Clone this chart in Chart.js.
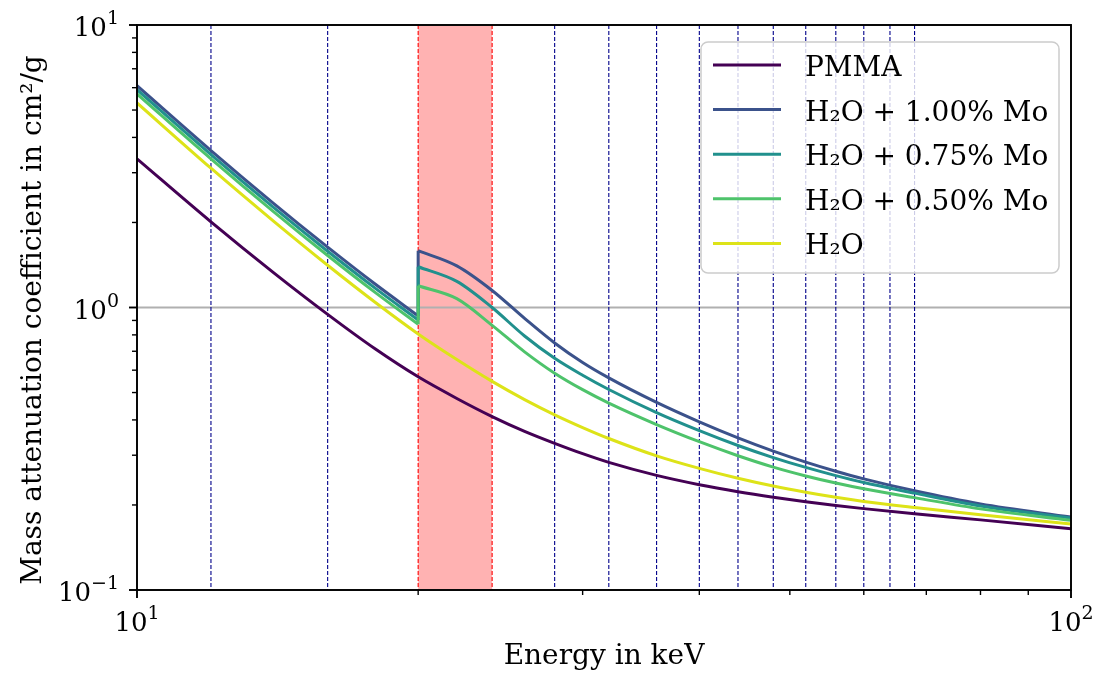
<!DOCTYPE html>
<html>
<head>
<meta charset="utf-8">
<script src="https://cdn.jsdelivr.net/npm/chart.js@4.4.0/dist/chart.umd.min.js"></script>
<style>
	html, body { margin: 0; padding: 0; background: #fff; }
	#wrap { width: 1096px; height: 680px; }
</style>
</head>
<body>
<div id="wrap"><canvas id="myChart" width="1096" height="680"></canvas></div>
<script>
const energies = [10, 12, 14, 16, 18, 20, 22, 24, 26, 28, 30, 32, 36, 40, 44, 48, 52, 56, 60, 68, 80, 100];
const edgeEnergy = 20; // Mo K-edge

// mass attenuation coefficient in cm2/g
const pmma = [3.36, 2.010, 1.329, 0.9456, 0.7127, 0.5683, 0.4765, 0.4111, 0.3644, 0.3305, 0.3038, 0.2830, 0.2545, 0.2359, 0.2228, 0.2130, 0.2053, 0.1991, 0.1941, 0.1862, 0.1771, 0.1649];
const water = [5.30, 3.112, 2.022, 1.411, 1.0415, 0.8061, 0.6543, 0.5475, 0.4721, 0.4170, 0.3759, 0.3438, 0.2985, 0.2695, 0.2486, 0.2333, 0.2218, 0.2128, 0.2059, 0.1960, 0.1848, 0.1713];
const mo100 = [6.10, 3.595, 2.338, 1.635, 1.208, 1.589, 1.404, 1.149, 0.9148, 0.7488, 0.6387, 0.5633, 0.4612, 0.3937, 0.3455, 0.3101, 0.2836, 0.2633, 0.2474, 0.2245, 0.2017, 0.1812];
const mo075 = [5.90, 3.478, 2.262, 1.582, 1.169, 1.394, 1.2375, 0.9999, 0.7929, 0.6612, 0.5759, 0.5127, 0.4246, 0.3665, 0.3247, 0.2943, 0.2716, 0.2541, 0.2402, 0.2202, 0.1984, 0.1799];
const mo050 = [5.70, 3.359, 2.185, 1.528, 1.129, 1.194, 1.0751, 0.8649, 0.6968, 0.5854, 0.5118, 0.4587, 0.3852, 0.3349, 0.2987, 0.2723, 0.2534, 0.2392, 0.2282, 0.2123, 0.1937, 0.1764];
// values just below the K-edge
const mo100Below = 0.934;
const mo075Below = 0.9036;
const mo050Below = 0.8728;

const seriesLabels = ["PMMA", "H\u2082O + 1.00% Mo", "H\u2082O + 0.75% Mo", "H\u2082O + 0.50% Mo", "H\u2082O"];
const seriesColors = ["#440154", "#3b528b", "#21908d", "#4ec36b", "#dde318"];

const markerEnergies = [12, 16, 20, 24, 28, 32, 36, 40, 44, 48, 52, 56, 60, 64, 68];
const redSpan = [20, 24];

const xMajorTicks = [10, 100];
const xMajorExp = ["1", "2"];
const xMinorTicks = [20, 30, 40, 50, 60, 70, 80, 90];
const yMajorTicks = [0.1, 1, 10];
const yMajorExp = ["\u22121", "0", "1"];
const yMinorTicks = [0.2, 0.3, 0.4, 0.5, 0.6, 0.7, 0.8, 0.9, 2, 3, 4, 5, 6, 7, 8, 9];

const xTitle = "Energy in keV";
const yTitle = "Mass attenuation coefficient in cm\u00b2/g";

const FONT = '"DejaVu Serif", serif';

function buildPoints(values, below) {
	const pts = [];
	energies.forEach((e, i) => {
		if (e === edgeEnergy && below !== undefined) {
			// break the curve and draw the edge as its own straight piece
			pts.push({ x: e, y: below }, { x: e, y: null });
			pts.push({ x: e, y: below }, { x: e, y: values[i] }, { x: e, y: null });
			pts.push({ x: e, y: values[i] });
		} else {
			pts.push({ x: e, y: values[i] });
		}
	});
	return pts;
}

const seriesData = [
	buildPoints(pmma),
	buildPoints(mo100, mo100Below),
	buildPoints(mo075, mo075Below),
	buildPoints(mo050, mo050Below),
	buildPoints(water)
];

function drawPow(ctx, base, exp, x, y, align) {
	ctx.font = "26px " + FONT;
	const wb = ctx.measureText(base).width;
	ctx.font = "19px " + FONT;
	const we = ctx.measureText(exp).width;
	let left = x;
	if (align === "center") left = x - (wb + we) / 2;
	if (align === "right") left = x - (wb + we);
	ctx.textAlign = "left";
	ctx.textBaseline = "alphabetic";
	ctx.font = "26px " + FONT;
	ctx.fillText(base, left, y);
	ctx.font = "19px " + FONT;
	ctx.fillText(exp, left + wb, y - 12);
}

const decorations = {
	id: "decorations",
	beforeDatasetsDraw(chart) {
		const { ctx, chartArea: a, scales: { x, y } } = chart;
		ctx.save();
		// highlighted energy window
		const s0 = x.getPixelForValue(redSpan[0]);
		const s1 = x.getPixelForValue(redSpan[1]);
		ctx.fillStyle = "rgba(255, 0, 0, 0.3)";
		ctx.fillRect(s0, a.top, s1 - s0, a.bottom - a.top);

		// major grid
		ctx.strokeStyle = "#b0b0b0";
		ctx.lineWidth = 1.8;
		xMajorTicks.forEach((v) => {
			const px = x.getPixelForValue(v);
			ctx.beginPath();
			ctx.moveTo(px, a.top);
			ctx.lineTo(px, a.bottom);
			ctx.stroke();
		});
		yMajorTicks.forEach((v) => {
			const py = y.getPixelForValue(v);
			ctx.beginPath();
			ctx.moveTo(a.left, py);
			ctx.lineTo(a.right, py);
			ctx.stroke();
		});

		// dashed energy markers
		ctx.lineWidth = 1.1;
		ctx.setLineDash([4, 2]);
		markerEnergies.forEach((e) => {
			const inSpan = e >= redSpan[0] && e <= redSpan[1];
			ctx.strokeStyle = inSpan ? "#ff0000" : "#00008b";
			const px = x.getPixelForValue(e);
			ctx.beginPath();
			ctx.moveTo(px, a.top);
			ctx.lineTo(px, a.bottom);
			ctx.stroke();
		});
		ctx.restore();
	},
	afterDraw(chart) {
		const { ctx, chartArea: a, scales: { x, y } } = chart;
		ctx.save();
		ctx.fillStyle = "#000";
		ctx.strokeStyle = "#000";

		// ticks
		ctx.lineWidth = 1.9;
		xMajorTicks.forEach((v) => {
			const px = x.getPixelForValue(v);
			ctx.beginPath();
			ctx.moveTo(px, a.bottom);
			ctx.lineTo(px, a.bottom + 8);
			ctx.stroke();
		});
		yMajorTicks.forEach((v) => {
			const py = y.getPixelForValue(v);
			ctx.beginPath();
			ctx.moveTo(a.left, py);
			ctx.lineTo(a.left - 8, py);
			ctx.stroke();
		});
		ctx.lineWidth = 1.4;
		xMinorTicks.forEach((v) => {
			const px = x.getPixelForValue(v);
			ctx.beginPath();
			ctx.moveTo(px, a.bottom);
			ctx.lineTo(px, a.bottom + 5);
			ctx.stroke();
		});
		yMinorTicks.forEach((v) => {
			const py = y.getPixelForValue(v);
			ctx.beginPath();
			ctx.moveTo(a.left, py);
			ctx.lineTo(a.left - 5, py);
			ctx.stroke();
		});

		// spines
		ctx.lineWidth = 1.9;
		ctx.strokeRect(a.left, a.top, a.right - a.left, a.bottom - a.top);

		// tick labels
		xMajorTicks.forEach((v, i) => {
			drawPow(ctx, "10", xMajorExp[i], x.getPixelForValue(v), a.bottom + 41, "center");
		});
		yMajorTicks.forEach((v, i) => {
			drawPow(ctx, "10", yMajorExp[i], a.left - 18, y.getPixelForValue(v) + 11, "right");
		});

		// axis titles
		ctx.font = "28px " + FONT;
		ctx.textAlign = "center";
		ctx.textBaseline = "alphabetic";
		ctx.fillText(xTitle, (a.left + a.right) / 2, 664);
		ctx.save();
		ctx.translate(41, 320);
		ctx.rotate(-Math.PI / 2);
		ctx.fillText(yTitle, 0, 0);
		ctx.restore();

		// legend
		const lg = { left: a.right - 370, top: a.top + 17, width: 358, height: 231 };
		ctx.beginPath();
		ctx.roundRect(lg.left, lg.top, lg.width, lg.height, 7);
		ctx.fillStyle = "rgba(255, 255, 255, 0.8)";
		ctx.fill();
		ctx.lineWidth = 1.5;
		ctx.strokeStyle = "#cccccc";
		ctx.stroke();

		ctx.font = "28px " + FONT;
		ctx.textAlign = "left";
		chart.data.datasets.forEach((ds, i) => {
			const ry = lg.top + 23 + i * 44.6;
			ctx.strokeStyle = ds.borderColor;
			ctx.lineWidth = 3;
			ctx.beginPath();
			ctx.moveTo(lg.left + 12, ry);
			ctx.lineTo(lg.left + 80, ry);
			ctx.stroke();
			ctx.fillStyle = "#000";
			ctx.fillText(ds.label, lg.left + 104, ry + 11);
		});
		ctx.restore();
	}
};

const ctx = document.getElementById("myChart").getContext("2d");

new Chart(ctx, {
	type: "line",
	data: {
		datasets: seriesLabels.map((label, i) => ({
			label: label,
			data: seriesData[i],
			borderColor: seriesColors[i],
			backgroundColor: seriesColors[i],
			borderWidth: 3,
			pointRadius: 0,
			fill: false,
			cubicInterpolationMode: "monotone",
			order: seriesLabels.length - 1 - i
		}))
	},
	plugins: [decorations],
	options: {
		responsive: false,
		animation: false,
		events: [],
		layout: {
			padding: { left: 137, top: 25, right: 25, bottom: 90 }
		},
		scales: {
			x: { type: "logarithmic", min: 10, max: 100, display: false },
			y: { type: "logarithmic", min: 0.1, max: 10, display: false }
		},
		plugins: {
			legend: { display: false },
			tooltip: { enabled: false }
		}
	}
});
</script>
</body>
</html>
